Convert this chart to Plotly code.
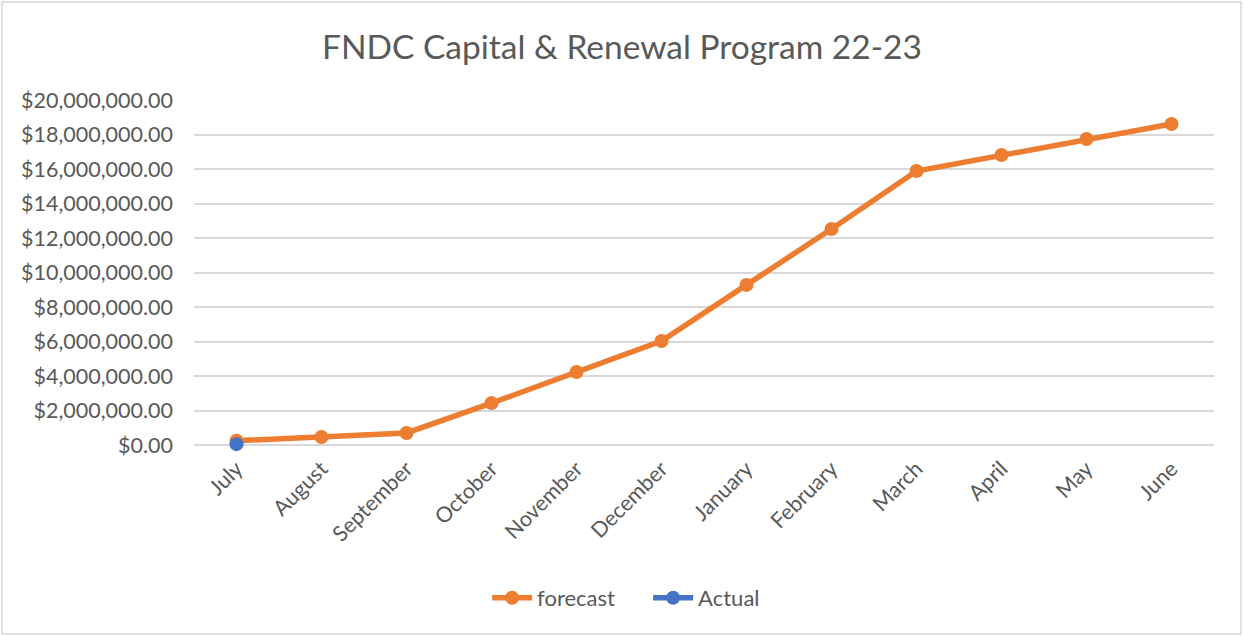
import plotly.graph_objects as go

months = ["July", "August", "September", "October", "November", "December",
          "January", "February", "March", "April", "May", "June"]
forecast = [250000, 460000, 700000, 2430000, 4230000, 6030000,
            9280000, 12520000, 15880000, 16810000, 17740000, 18610000]
actual = [50000, None, None, None, None, None, None, None, None, None, None, None]
y_ticks = list(range(0, 20000001, 2000000))
y_tick_labels = ["${:,.2f}".format(v) for v in y_ticks]

FONT = "Lato, Open Sans, sans-serif"
GREY = "#595959"

fig = go.Figure()
fig.add_trace(go.Scatter(
    x=months, y=forecast, name="forecast", mode="lines+markers",
    line=dict(color="#ED7D31", width=5.5),
    marker=dict(color="#ED7D31", size=14),
    cliponaxis=False,
))
fig.add_trace(go.Scatter(
    x=months, y=actual, name="Actual", mode="lines+markers",
    line=dict(color="#4472C4", width=5.5),
    marker=dict(color="#4472C4", size=14),
    cliponaxis=False,
))

fig.update_layout(
    width=1244, height=637,
    margin=dict(l=194, r=30, t=100, b=192),
    paper_bgcolor="white", plot_bgcolor="white",
    font=dict(family=FONT, color=GREY, size=21),
    title=dict(text="FNDC Capital & Renewal Program 22-23",
               x=0.5, xref="container", y=1 - 47 / 637, yref="container",
               xanchor="center", yanchor="middle",
               font=dict(family=FONT, size=33.5, color=GREY)),
    showlegend=True,
    legend=dict(orientation="h", xref="container", yref="container",
                x=0.521, y=1 - 598 / 637, xanchor="center", yanchor="middle",
                font=dict(family=FONT, size=22, color=GREY),
                entrywidth=106, entrywidthmode="pixels",
                itemwidth=40, traceorder="normal"),
    xaxis=dict(type="category", categoryorder="array", categoryarray=months,
               range=[-0.5, 11.5], tickangle=-45, showgrid=False,
               showline=False, zeroline=False, ticks="", ticklabelstandoff=6,
               tickfont=dict(family=FONT, size=21.5, color=GREY)),
    yaxis=dict(range=[0, 20000000], tickvals=y_ticks, ticktext=y_tick_labels,
               showgrid=True, gridcolor="#D9D9D9", gridwidth=1.5,
               zeroline=True, zerolinecolor="#D9D9D9", zerolinewidth=1.5,
               showline=False, ticks="", ticklabelstandoff=20,
               tickfont=dict(family=FONT, size=21.5, color=GREY)),
    shapes=[dict(type="rect", xref="paper", yref="paper",
                 x0=(2 - 194) / 1020, x1=(1241 - 194) / 1020,
                 y0=(445 - 634) / 345, y1=(445 - 2) / 345,
                 line=dict(color="#D9D9D9", width=1.5), layer="below")],
)

fig.write_html("out.html", config={"displayModeBar": False},
               post_script="document.body.style.margin='0';document.body.style.overflow='hidden';")
